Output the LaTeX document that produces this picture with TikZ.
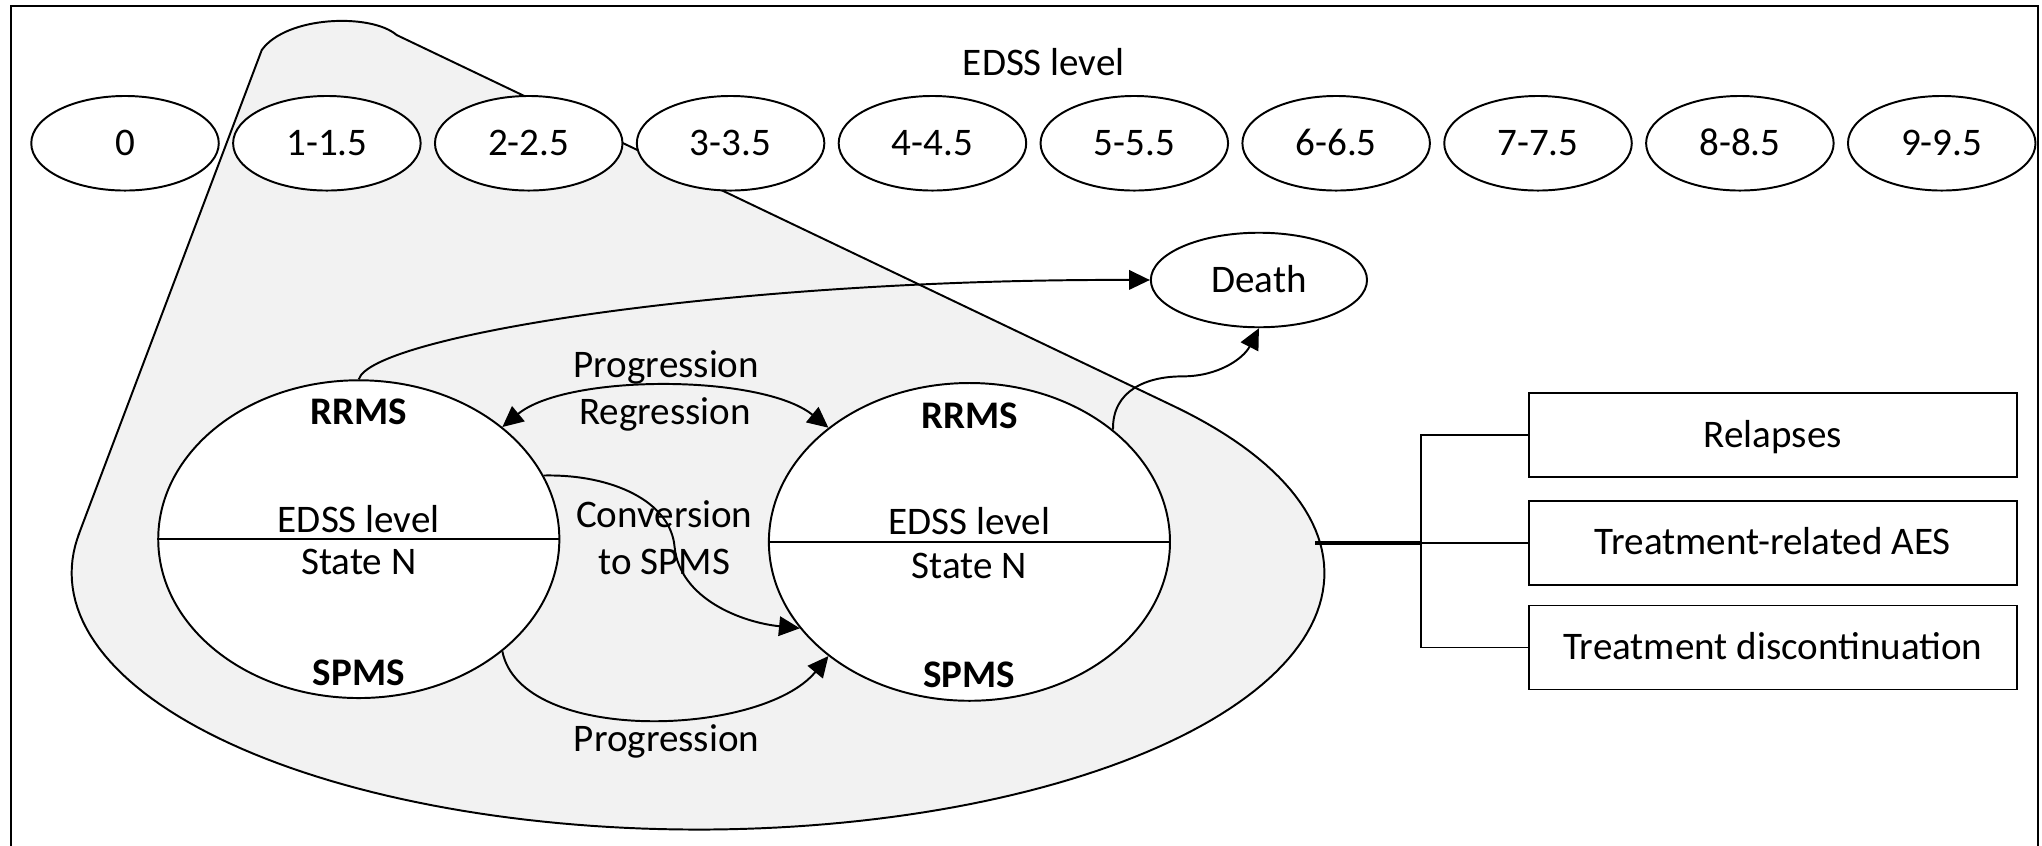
\documentclass[tikz,border=0pt]{standalone}
\usepackage{fontspec}
\setmainfont{Carlito}
\usetikzlibrary{shapes.geometric,arrows.meta}
\definecolor{zonegray}{HTML}{F2F2F2}
\begin{document}
\begin{tikzpicture}[x=1pt,y=-1pt,
  line width=1.5pt,
  every node/.style={font=\fontsize{30}{36}\selectfont, text height=19pt, text depth=0pt, inner sep=0pt},
  level/.style={ellipse, draw, fill=white, minimum width=144pt, minimum height=72.6pt},
  state/.style={ellipse, draw, fill=white, minimum width=308pt, minimum height=244pt},
  outcome/.style={ellipse, draw, fill=white, minimum width=166pt, minimum height=72.6pt},
  event/.style={rectangle, draw, fill=white, minimum width=374.6pt, minimum height=64.5pt},
  bold/.style={font=\fontsize{30}{36}\selectfont\bfseries},
  tip/.tip={Triangle[length=16pt,width=15pt]},
  arr/.style={-tip},
  arrboth/.style={tip-tip},
]
\useasboundingbox (0,0) rectangle (1568,649);
\clip (0,0) rectangle (1568,649);

% outer frame (open at the bottom edge)
\draw[line width=1.6pt] (8.6,4.6) rectangle (1565.2,700);

% shaded zone expanding one EDSS level
\path[draw, fill=zonegray] (61,408.9) -- (201,38.4)
  .. controls (220,12) and (285,10) .. (304.6,26.9)
  -- (901.8,312.1)
  -- plot[domain=-40.5:189.1, samples=150] ({536+481*cos(\x)},{440+197*sin(\x)})
  -- cycle;

% EDSS levels
\node (title) at (801.5,48.2) {EDSS level};
\foreach \lab [count=\i from 0] in {0,1-1.5,2-2.5,3-3.5,4-4.5,5-5.5,6-6.5,7-7.5,8-8.5,9-9.5}
  \node[level] (lv\i) at ({96+155*\i},110) {\lab};

% health states
\node[state] (L) at (275.5,414) {};
\node[state] (R) at (744.4,416.1) {};
\draw (L.west) -- (L.east);
\draw (R.west) -- (R.east);
\node[bold] (Lr) at (275.5,316.4) {RRMS};
\node (Le) at (275.5,399) {EDSS level};
\node (Ls) at (275.5,432) {State N};
\node[bold] (Lp) at (275.5,517) {SPMS};
\node[bold] (Rr) at (744.4,319.8) {RRMS};
\node (Re) at (744.4,401.2) {EDSS level};
\node (Rs) at (744.4,434.5) {State N};
\node[bold] (Rp) at (744.4,518.6) {SPMS};

\node[outcome] (D) at (966.7,215) {Death};

% events
\node[event] (B1) at (1361.3,333.8) {Relapses};
\node[event] (B2) at (1361.3,416.6) {Treatment-related AES};
\node[event] (B3) at (1361.3,497.2) {Treatment discontinuation};

% transitions
\draw[arr] (L.north) .. controls (285,258) and (560,214) .. (D.west);
\draw[arrboth] (L.38) .. controls (435,287) and (585,287) .. (R.141);
\coordinate (cvmid) at (518,420);
\draw[arr] (L.19) .. controls (470,364) and (515,385) .. (cvmid)
  .. controls (522,460) and (570,478) .. (R.-153);
\draw[arr] (L.-38) .. controls (400,572) and (585,566) .. (R.-141);
\coordinate (dmid) at (908,289);
\draw[arr] (R.38.6) .. controls (854,300) and (880,289) .. (dmid)
  .. controls (936,289) and (955,275) .. (D.south);

% transition labels
\node (pg1) at (511.7,280.3) {Progression};
\node (rg) at (510.7,316.7) {Regression};
\node (cv1) at (510,395.8) {Conversion};
\node (cv2) at (510,431.9) {to SPMS};
\node (pg2) at (511.8,567.7) {Progression};

% links from the shaded zone to the events
\coordinate (E) at (1010,416.6);
\coordinate (J) at (1091,416.6);
\draw[line width=3pt] (E) -- (J);
\draw (J) -- (B2.west);
\draw (B1.west) -| (J) |- (B3.west);
\end{tikzpicture}
\end{document}
